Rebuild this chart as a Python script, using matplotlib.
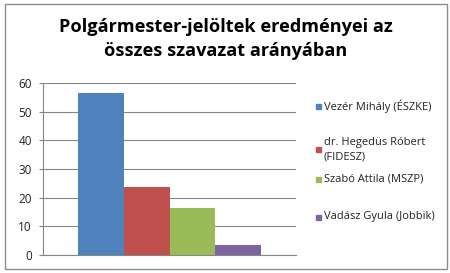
import matplotlib.pyplot as plt
from matplotlib.patches import Rectangle

candidates = ["Vezér Mihály (ÉSZKE)", "dr. Hegedüs Róbert\n(FIDESZ)",
              "Szabó Attila (MSZP)", "Vadász Gyula (Jobbik)"]
shares = [56.4, 23.6, 16.3, 3.5]
colors = ["#4F81BD", "#C0504D", "#9BBB59", "#8064A2"]
yticks = [0, 10, 20, 30, 40, 50, 60]

plt.rcParams['font.family'] = ['Open Sans', 'DejaVu Sans']

fig = plt.figure(figsize=(4.5, 2.73), dpi=100)
W, H = 450, 273
ax = fig.add_axes([43 / W, 1 - 255 / H, 253 / W, (255 - 83) / H])

bw = 0.727 / 4
x0 = -0.727 / 2 + bw / 2
for i, (name, v, c) in enumerate(zip(candidates, shares, colors)):
    ax.bar(x0 + i * bw, v, width=bw, color=c, label=name, zorder=3)

ax.set_xlim(-0.5, 0.5)
ax.set_ylim(0, 60)
ax.set_yticks(yticks)
ax.set_xticks([])
ax.grid(axis='y', color='#868686', linewidth=0.8, zorder=0)
for s in ['top', 'right']:
    ax.spines[s].set_visible(False)
for s in ['left', 'bottom']:
    ax.spines[s].set_color('#868686')
    ax.spines[s].set_linewidth(0.8)
ax.tick_params(axis='y', length=3, color='#868686', labelsize=8.5,
               labelcolor='#222222', pad=5)

fig.text(226 / W, 1 - 27 / H, "Polgármester-jelöltek eredményei az",
         ha='center', va='center', fontsize=13.1, fontweight='bold')
fig.text(226 / W, 1 - 51 / H, "összes szavazat arányában",
         ha='center', va='center', fontsize=13.1, fontweight='bold')

leg_y = [106.7, 149.5, 179, 217]
for name, c, y in zip(candidates, colors, leg_y):
    fig.patches.append(Rectangle((316 / W, 1 - (y + 2.5) / H), 5 / W, 5 / H,
                                 transform=fig.transFigure, color=c))
    fig.text(323.5 / W, 1 - y / H, name, ha='left', va='center',
             fontsize=8.0, color='#222222', linespacing=1.4)

fig.patches.append(Rectangle((5 / W, 1 - 269 / H), 442 / W, 265 / H,
                             transform=fig.transFigure, fill=False,
                             edgecolor='#8c8c8c', linewidth=1.0))

fig.savefig("out.png", dpi=100)
